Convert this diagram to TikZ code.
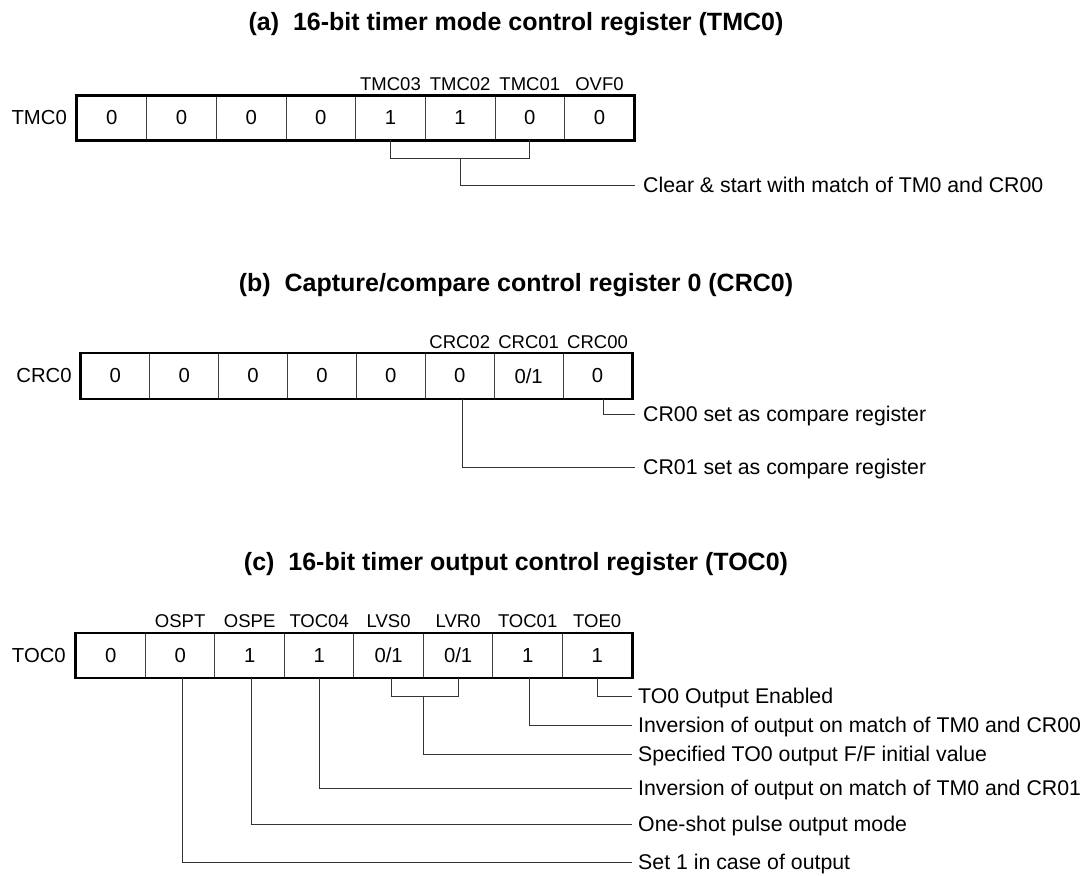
\documentclass[tikz,border=0pt]{standalone}
\usepackage{fontspec}
\setmainfont{Liberation Sans}
\tikzset{
  cell/.style={draw=black!75, line width=0.9pt, minimum width=69.6pt, minimum height=44pt, inner sep=0pt, font=\fontsize{20.3}{24}\selectfont},
  regname/.style={anchor=east, inner sep=0pt, font=\fontsize{20.3}{24}\selectfont},
  bitname/.style={anchor=base, inner sep=0pt, font=\fontsize{18.5}{22}\selectfont},
  desc/.style={anchor=west, inner sep=0pt, text height=15.2pt, text depth=0pt, font=\fontsize{21.3}{25}\selectfont},
  heading/.style={anchor=base, inner sep=0pt, font=\bfseries\fontsize{25}{30}\selectfont},
  frame/.style={line width=2.5pt},
  lead/.style={line width=1pt, black!80}
}
\begin{document}
\begin{tikzpicture}[x=1pt, y=-1pt]
  \useasboundingbox (0,0) rectangle (1086,875);

  \node[heading] (ha) at (516,31) {(a)~~16-bit timer mode control register (TMC0)};
  \foreach \v [count=\i] in {0,0,0,0,1,1,0,0}
    \node[cell, minimum width=69.66pt] (a\i) at ({77+69.66*(\i-0.5)},118) {\v};
  \draw[frame] (a1.north west) rectangle (a8.south east);
  \node[regname] (na) at ([xshift=-9.5pt]a1.west) {TMC0};
  \foreach \n/\k in {TMC03/5, TMC02/6, TMC01/7, OVF0/8}
    \node[bitname] (ta\k) at ([yshift=5.5pt]a\k.north) {\n};
  \coordinate (brA) at (0,158);
  \node[desc] (da) at (643,185) {Clear \& start with match of TM0 and CR00};
  \draw[lead] (a5.south) |- (a7.south |- brA) -- (a7.south);
  \draw[lead] (a6.south |- brA) |- ([xshift=-8pt]da.west);

  \node[heading] (hb) at (516,291) {(b)~~Capture/compare control register 0 (CRC0)};
  \foreach \v [count=\i] in {0,0,0,0,0,0,{0/1},0}
    \node[cell, minimum width=68.9pt, minimum height=45pt] (b\i) at ({80.8+68.9*(\i-0.5)},375.8) {\v};
  \draw[frame] (b1.north west) rectangle (b8.south east);
  \node[regname] (nb) at ([xshift=-8.5pt]b1.west) {CRC0};
  \foreach \n/\k in {CRC02/6, CRC01/7, CRC00/8}
    \node[bitname] (tb\k) at ([yshift=4.5pt]b\k.north) {\n};
  \node[desc] (db0) at (643,414) {CR00 set as compare register};
  \node[desc] (db2) at (643,467) {CR01 set as compare register};
  \draw[lead] ([xshift=6pt]b8.south) |- ([xshift=-8pt]db0.west);
  \draw[lead] ([xshift=3pt]b6.south) |- ([xshift=-8pt]db2.west);

  \node[heading] (hc) at (516,570) {(c)~~16-bit timer output control register (TOC0)};
  \foreach \v [count=\i] in {0,0,1,1,{0/1},{0/1},1,1}
    \node[cell, minimum width=69.5pt] (c\i) at ({75.9+69.5*(\i-0.5)},655.3) {\v};
  \draw[frame] (c1.north west) rectangle (c8.south east);
  \node[regname] (nc) at ([xshift=-9.5pt]c1.west) {TOC0};
  \foreach \n/\k in {OSPT/2, OSPE/3, TOC04/4, LVS0/5, LVR0/6, TOC01/7, TOE0/8}
    \node[bitname] (tc\k) at ([yshift=5.5pt]c\k.north) {\n};
  \node[desc] (dc0) at (638,696) {TO0 Output Enabled};
  \node[desc] (dc1) at (638,725) {Inversion of output on match of TM0 and CR00};
  \node[desc] (dc2) at (638,754) {Specified TO0 output F/F initial value};
  \node[desc] (dc3) at (638,788) {Inversion of output on match of TM0 and CR01};
  \node[desc] (dc4) at (638,824) {One-shot pulse output mode};
  \node[desc] (dc5) at (638,862) {Set 1 in case of output};
  \draw[lead] (c8.south) |- ([xshift=-6pt]dc0.west);
  \draw[lead] ([xshift=2pt]c7.south) |- ([xshift=-6pt]dc1.west);
  \draw[lead] ([xshift=3pt]c5.south) |- (c6.south |- dc0.west) -- (c6.south);
  \draw[lead] (c5.south east |- dc0.west) |- ([xshift=-6pt]dc2.west);
  \draw[lead] (c4.south) |- ([xshift=-6pt]dc3.west);
  \draw[lead] ([xshift=2pt]c3.south) |- ([xshift=-6pt]dc4.west);
  \draw[lead] ([xshift=2pt]c2.south) |- ([xshift=-6pt]dc5.west);
\end{tikzpicture}
\end{document}
